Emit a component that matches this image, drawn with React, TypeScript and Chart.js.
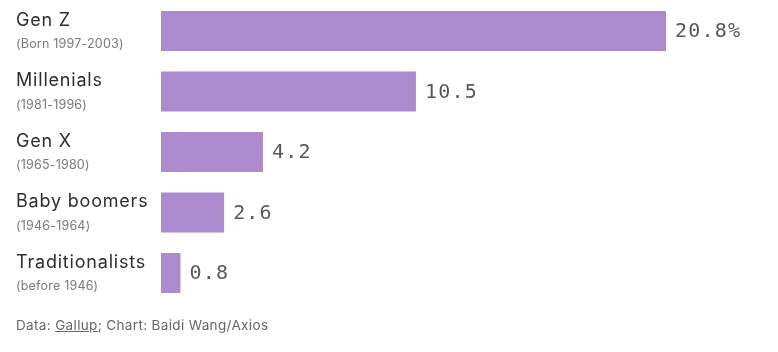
import React, { useEffect, useRef } from "react";
import { Chart, registerables } from "chart.js";

Chart.register(...registerables);

const categories = ["Gen Z", "Millenials", "Gen X", "Baby boomers", "Traditionalists"];
const subtitles = ["(Born 1997-2003)", "(1981-1996)", "(1965-1980)", "(1946-1964)", "(before 1946)"];
const values = [20.8, 10.5, 4.2, 2.6, 0.8];
const valueLabels = ["20.8%", "10.5", "4.2", "2.6", "0.8"];

const labelPlugin = {
  id: "customLabels",
  afterDatasetsDraw(chart: any) {
    const ctx = chart.ctx;
    const yScale = chart.scales.y;
    const meta = chart.getDatasetMeta(0);
    ctx.save();
    categories.forEach((cat, i) => {
      const cy = yScale.getPixelForValue(i);
      ctx.textAlign = "left";
      ctx.textBaseline = "alphabetic";
      ctx.fillStyle = "#2e2e2e";
      ctx.font = '18px Inter, "Noto Sans", sans-serif';
      (ctx as any).letterSpacing = "0.8px";
      ctx.fillText(cat, 16, cy - 5.5);
      ctx.fillStyle = "#7a7a7a";
      ctx.font = '12.5px Inter, "Noto Sans", sans-serif';
      (ctx as any).letterSpacing = "0.2px";
      ctx.fillText(subtitles[i], 16, cy + 17);
      const bar = meta.data[i];
      ctx.fillStyle = "#585858";
      ctx.font = '20px "DejaVu Sans Mono", monospace';
      (ctx as any).letterSpacing = "1.2px";
      ctx.fillText(valueLabels[i], bar.x + 9, cy + 6);
      (ctx as any).letterSpacing = "0px";
    });
    ctx.restore();
  },
};

export default function App() {
  const ref = useRef<HTMLCanvasElement>(null);
  useEffect(() => {
    if (!ref.current) return;
    const chart = new Chart(ref.current, {
      type: "bar",
      data: {
        labels: categories,
        datasets: [
          {
            data: values,
            backgroundColor: "#ad8ace",
            borderWidth: 0,
            categoryPercentage: 1,
            barPercentage: 0.661,
          },
        ],
      },
      options: {
        indexAxis: "y",
        responsive: false,
        animation: false,
        layout: { padding: { left: 161, right: 34.3, top: 0.75, bottom: 48.75 } },
        scales: {
          x: { display: false, min: 0, max: 24 },
          y: { display: false },
        },
        plugins: { legend: { display: false }, tooltip: { enabled: false } },
      },
      plugins: [labelPlugin],
    });
    return () => chart.destroy();
  }, []);
  return (
    <div style={{ position: "absolute", left: 0, top: 0, width: 778, height: 352, background: "#fff" }}>
      <canvas ref={ref} width={778} height={352} style={{ display: "block" }} />
      <div
        style={{
          position: "absolute",
          left: 16,
          top: 317,
          fontFamily: 'Inter, "Noto Sans", sans-serif',
          fontSize: 13.5,
          letterSpacing: "0.35px",
          color: "#666",
          lineHeight: "16px",
        }}
      >
        Data: <span style={{ textDecoration: "underline" }}>Gallup</span>; Chart: Baidi Wang/Axios
      </div>
    </div>
  );
}
